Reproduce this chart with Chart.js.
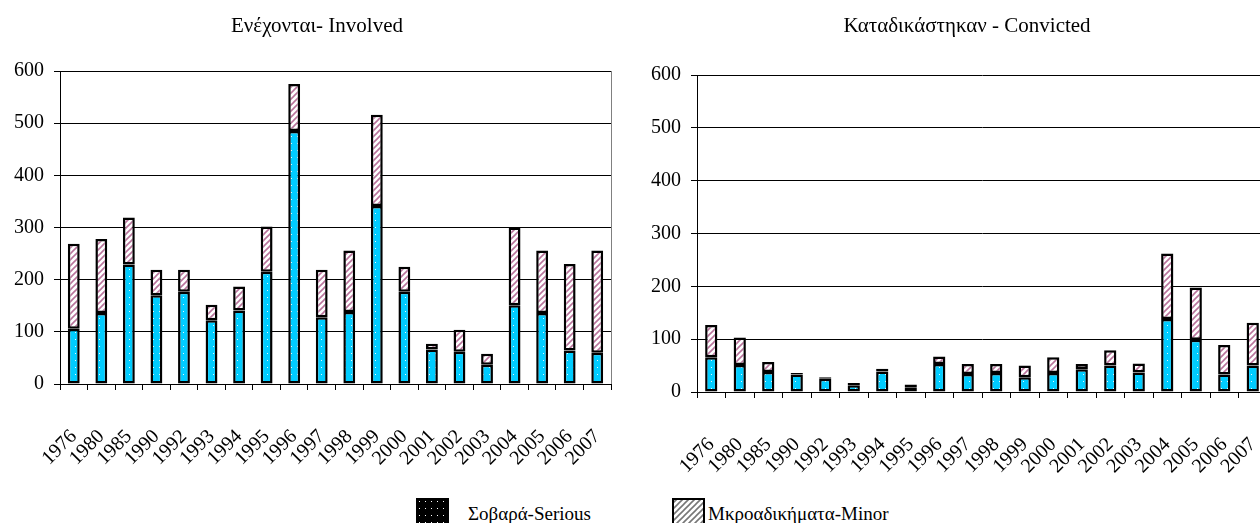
<!DOCTYPE html>
<html>
<head>
<meta charset="utf-8">
<script src="https://cdn.jsdelivr.net/npm/chart.js@4.4.0/dist/chart.umd.min.js"></script>
<style>
  body { margin: 0; width: 1260px; height: 523px; overflow: hidden; background: #fff; position: relative; font-family: "Liberation Serif", "Times New Roman", serif; }
  #leftBox { position: absolute; left: 0; top: 0; width: 630px; height: 480px; }
  #rightBox { position: absolute; left: 630px; top: 0; width: 660px; height: 480px; }
  .key { position: absolute; top: 498px; height: 19px; font-size: 19px; line-height: 19px; color: #000; white-space: nowrap; }
  .key canvas { position: absolute; left: 0; top: 0; }
  .key span { position: absolute; top: 6px; }
</style>
</head>
<body>
<div id="leftBox"><canvas id="involvedChart" width="630" height="480"></canvas></div>
<div id="rightBox"><canvas id="convictedChart" width="660" height="480"></canvas></div>
<div class="key" style="left:416px"><canvas id="keySerious" width="33" height="30"></canvas><span style="left:52px">Σοβαρά-Serious</span></div>
<div class="key" style="left:672px"><canvas id="keyMinor" width="33" height="30"></canvas><span style="left:36px">Μκροαδικήματα-Minor</span></div>
<script>
// years on the x axis
var years = ['1976', '1980', '1985', '1990', '1992', '1993', '1994', '1995', '1996', '1997',
             '1998', '1999', '2000', '2001', '2002', '2003', '2004', '2005', '2006', '2007'];

// Ενέχονται - Involved
var involvedSerious = [106, 136, 229, 170, 177, 122, 141, 215, 485, 128, 138, 341, 177, 66, 62, 37, 151, 136, 64, 60];
var involvedMinor   = [163, 142, 90, 49, 42, 30, 46, 87, 90, 91, 118, 175, 48, 11, 42, 21, 149, 120, 166, 196];

// Καταδικάστηκαν - Convicted
var convictedSerious = [66, 51, 38, 33, 25, 13, 39, 8, 53, 34, 36, 28, 36, 43, 50, 37, 138, 99, 33, 50];
var convictedMinor   = [61, 52, 19, 3, 3, 4, 5, 6, 14, 19, 17, 22, 30, 10, 29, 17, 124, 99, 56, 81];

var yMax = 600;
var yStep = 100;

var FONT = '"Liberation Serif", "Times New Roman", serif';

// cyan with white dots
function dotPattern(ctx, bg, dot) {
    var c = document.createElement('canvas');
    c.width = 6; c.height = 7;
    var g = c.getContext('2d');
    g.fillStyle = bg;
    g.fillRect(0, 0, 6, 7);
    g.fillStyle = dot;
    g.fillRect(3, 3, 1, 1);
    return ctx.createPattern(c, 'repeat');
}

// white with diagonal stripes
function hatchPattern(ctx, color) {
    var c = document.createElement('canvas');
    c.width = 6; c.height = 6;
    var g = c.getContext('2d');
    g.fillStyle = '#fff';
    g.fillRect(0, 0, 6, 6);
    g.strokeStyle = color;
    g.lineWidth = 1.6;
    g.beginPath();
    g.moveTo(0, 6); g.lineTo(6, 0);
    g.moveTo(-1, 1); g.lineTo(1, -1);
    g.moveTo(5, 7); g.lineTo(7, 5);
    g.stroke();
    return ctx.createPattern(c, 'repeat');
}

// grey line on the right side of the plot + heading text
var frameAndHeading = {
    id: 'frameAndHeading',
    afterDraw: function(chart, args, opts) {
        var a = chart.chartArea, ctx = chart.ctx;
        ctx.save();
        ctx.strokeStyle = '#808080';
        ctx.lineWidth = 1;
        ctx.beginPath();
        ctx.moveTo(a.right + 0.5, a.top);
        ctx.lineTo(a.right + 0.5, a.bottom);
        ctx.stroke();
        ctx.fillStyle = '#000';
        ctx.font = '21px ' + FONT;
        ctx.textAlign = 'center';
        ctx.textBaseline = 'middle';
        ctx.fillText(opts.text, opts.x, opts.y);
        ctx.restore();
    }
};

function makeChart(canvasId, title, titleX, serious, minor, yWidth, xHeight, padRight, padTop) {
    var ctx = document.getElementById(canvasId).getContext('2d');
    return new Chart(ctx, {
        type: 'bar',
        data: {
            labels: years,
            datasets: [{
                label: 'Σοβαρά-Serious',
                data: serious,
                backgroundColor: dotPattern(ctx, '#00ccff', 'rgba(255,255,255,0.9)'),
                borderColor: '#000',
                borderWidth: 2.5,
                borderSkipped: false,
                categoryPercentage: 1,
                barPercentage: 0.43
            }, {
                label: 'Μκροαδικήματα-Minor',
                data: minor,
                backgroundColor: hatchPattern(ctx, '#b9749c'),
                borderColor: '#000',
                borderWidth: 2.5,
                borderSkipped: false,
                categoryPercentage: 1,
                barPercentage: 0.43
            }]
        },
        options: {
            responsive: false,
            animation: false,
            layout: { padding: { left: 0, right: padRight, top: padTop, bottom: 0 } },
            plugins: {
                legend: { display: false },
                tooltip: { enabled: false },
                title: { display: false },
                frameAndHeading: { text: title, x: titleX, y: 26 }
            },
            scales: {
                x: {
                    stacked: true,
                    grid: { display: true, drawOnChartArea: false, drawTicks: true, tickLength: 6, color: '#000' },
                    border: { color: '#000', width: 1 },
                    ticks: {
                        color: '#000',
                        font: { family: FONT, size: 20 },
                        minRotation: 45,
                        maxRotation: 45,
                        autoSkip: false,
                        padding: 35
                    },
                    afterFit: function(scale) {
                        scale.height = xHeight;
                        scale.paddingLeft = 0;
                        scale.paddingRight = 0;
                    }
                },
                y: {
                    stacked: true,
                    min: 0,
                    max: yMax,
                    grid: { color: '#000', lineWidth: 1, tickLength: 6 },
                    border: { color: '#000', width: 1 },
                    ticks: {
                        stepSize: yStep,
                        color: '#000',
                        font: { family: FONT, size: 20 },
                        padding: 10
                    },
                    afterFit: function(scale) { scale.width = yWidth; }
                }
            }
        },
        plugins: [frameAndHeading]
    });
}

makeChart('involvedChart', 'Ενέχονται- Involved', 317, involvedSerious, involvedMinor, 60, 96, 19, 71);
makeChart('convictedChart', 'Καταδικάστηκαν - Convicted', 337, convictedSerious, convictedMinor, 67, 88, 23, 75);

// legend swatches
var ks = document.getElementById('keySerious').getContext('2d');
ks.fillStyle = dotPattern(ks, '#000', '#fff');
ks.fillRect(0, 0, 33, 30);

var km = document.getElementById('keyMinor').getContext('2d');
km.fillStyle = hatchPattern(km, '#777');
km.fillRect(0, 0, 33, 30);
km.strokeStyle = '#000';
km.lineWidth = 2;
km.strokeRect(1, 1, 31, 30);
</script>
</body>
</html>
